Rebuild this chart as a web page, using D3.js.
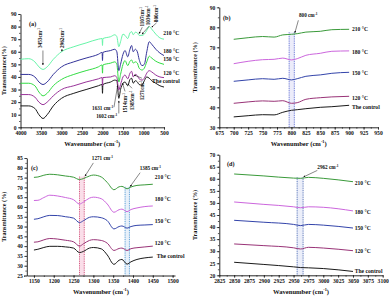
<!DOCTYPE html>
<html>
<head>
<meta charset="utf-8">
<script src="https://cdn.jsdelivr.net/npm/d3@7"></script>
<style>
body { margin: 0; background: #fff; }
svg text { font-family: "Liberation Serif", "Times New Roman", serif; font-weight: bold; fill: #111; }
</style>
</head>
<body>
<svg id="chart" width="389" height="298"></svg>
<script>
// ---------- data ----------
const seriesNames = ["The control", "120 °C", "150 °C", "180 °C", "210 °C"];

// (a) full spectrum 4000-500
const wnA = [4000, 3800, 3650, 3550, 3450, 3350, 3200, 3000, 2700, 2400, 2100, 2010, 2000, 1990, 1800, 1700, 1650, 1602, 1560, 1500, 1450, 1385, 1330, 1290, 1250, 1200, 1150, 1107, 1036, 980, 920, 860, 800, 700, 600, 500];
const aControl = [17, 17, 15, 10, 7, 10, 17, 23, 27, 30, 33, 34, 27, 34, 36, 37.5, 37, 23, 30, 35, 36, 33, 38, 39, 35, 37, 36, 34, 33.5, 37, 40, 39, 37, 35, 33, 32];
const a120 = [26, 26, 24, 20, 18, 20, 25, 30, 33, 36, 38.5, 39.5, 33, 39.5, 40, 41, 39.5, 29.5, 34, 40, 41.5, 38.5, 43, 44.5, 40, 42, 41, 38.5, 37.5, 39, 43, 45, 44, 41.5, 40, 39.5];
const a150 = [35, 35, 33, 28, 25, 27, 33, 38, 42, 45, 48, 49.5, 43, 49.5, 51, 52, 50, 36, 42, 50, 53, 49, 52.5, 53.5, 51, 52, 51, 47, 45.5, 47, 52, 56.5, 55, 52.5, 51, 50];
const a180 = [42, 42, 40, 36, 34, 36, 42, 48, 52, 55, 58, 59.5, 53, 59.5, 61, 62, 60, 45, 50, 58, 61, 56, 62, 65, 60, 62, 60, 54, 49, 50, 60, 68, 66, 62, 59, 57];
const a210 = [54, 54.5, 52, 48, 46, 48, 54, 60, 64, 67, 70, 70.5, 65, 70.5, 72, 73.5, 72, 64, 68, 74, 73, 70.5, 75, 76, 73.5, 75.5, 75, 73, 73, 74, 77, 80, 78, 74, 71, 70];
const xTicksA = [4000, 3500, 3000, 2500, 2000, 1500, 1000, 500];
const yTicksA = [0, 10, 20, 30, 40, 50, 60, 70, 80, 90];

// (b) 700-900
const wnB = [700, 725, 750, 770, 785, 800, 810, 825, 850, 870, 900];
const bControl = [35.2, 35.8, 36.3, 36.2, 37.5, 38.5, 38.8, 39.3, 40, 40.3, 41];
const b120 = [42, 42.7, 43.2, 43, 43.3, 42, 42.3, 44, 44.8, 45.2, 45.5];
const b150 = [53, 53.7, 54.3, 54, 54.5, 53.7, 54.3, 55.5, 56.2, 57, 57.5];
const b180 = [61.8, 63, 63.8, 64, 64.6, 63.7, 64.3, 66, 67, 68, 68.2];
const b210 = [74, 74.8, 75.4, 75.1, 76.2, 76.5, 76.8, 77.6, 78, 78.8, 79];
const xTicksB = [675, 700, 725, 750, 775, 800, 825, 850, 875, 900, 925, 950];
const yTicksB = [30, 40, 50, 60, 70, 80, 90];

// (c) 1150-1450
const wnC = [1150, 1160, 1175, 1190, 1210, 1230, 1250, 1265, 1275, 1290, 1300, 1320, 1335, 1352, 1365, 1372, 1385, 1395, 1410, 1430, 1450];
const cControl = [38, 38.4, 39.3, 39.9, 39.9, 39.6, 39, 36.7, 37.3, 39, 39.3, 38.6, 35.5, 30.7, 32.8, 33.2, 30.8, 32, 33.2, 34, 34.4];
const c120 = [42, 42.2, 43.2, 43.9, 43.6, 43, 42.2, 40, 41.2, 42.9, 43.3, 42.9, 41.5, 37.8, 38.8, 39, 37.8, 38.7, 39.2, 39.6, 40];
const c150 = [53.7, 54, 55, 55.7, 55.6, 55, 54.3, 52, 53, 54.7, 55, 54.5, 53, 48.8, 50, 50.3, 49.2, 50, 50.6, 50.8, 51];
const c180 = [63.3, 63.4, 64.8, 66, 65.6, 64.8, 63.7, 61.5, 62.5, 64.5, 65, 64.2, 61.5, 57.3, 58.6, 58.9, 57.6, 58.7, 59.5, 60.2, 60.5];
const c210 = [75.1, 75.3, 76.2, 76.7, 76.4, 75.8, 75.2, 74, 74.5, 75.8, 76.3, 75.3, 72.5, 68.8, 70.3, 70.5, 69.3, 70.2, 71, 71.3, 71.6];
const xTicksC = [1150, 1200, 1250, 1300, 1350, 1400, 1450, 1500];
const yTicksC = [25, 30, 35, 40, 45, 50, 55, 60, 65, 70, 75, 80, 85];

// (d) 2850-3050
const wnD = [2850, 2900, 2950, 2962, 2975, 3000, 3050];
const dControl = [25.4, 24.5, 23.5, 23.2, 23.1, 22.8, 21.6];
const d120 = [33, 32.3, 31.4, 30.9, 31.6, 31.3, 30.2];
const d150 = [42.8, 42, 41.1, 40.6, 41.1, 40.8, 39.6];
const d180 = [50.4, 49.4, 48.4, 48, 48.4, 48.2, 46.7];
const d210 = [62, 61.2, 60.3, 60.2, 60.6, 60.2, 58.8];
const xTicksD = [2825, 2850, 2875, 2900, 2925, 2950, 2975, 3000, 3025, 3050, 3075, 3100];
const yTicksD = [20, 25, 30, 35, 40, 45, 50, 55, 60, 65, 70];

const colorsA = ["#1a1a1a", "#993399", "#33dd44", "#333399", "#66f5a8"];
const colorsB = ["#1a1a1a", "#993377", "#3344aa", "#cc66dd", "#3a9a3a"];

// ---------- drawing ----------
const svg = d3.select("#chart");

function supText(sel, before, sup, after, fs) {
  sel.append("tspan").text(before);
  sel.append("tspan").attr("dy", -fs * 0.4).attr("font-size", fs * 0.65).text(sup);
  if (after) sel.append("tspan").attr("dy", fs * 0.4).text(after);
}

svg.append("defs").append("marker")
    .attr("id", "arr").attr("viewBox", "0 0 6 6").attr("refX", 5).attr("refY", 3)
    .attr("markerWidth", 4).attr("markerHeight", 4).attr("orient", "auto")
  .append("path").attr("d", "M0,0L6,3L0,6Z").attr("fill", "#111");

function drawPanel(p) {
  const x = d3.scaleLinear().domain(p.xDomain).range(p.xRange);
  const y = d3.scaleLinear().domain(p.yDomain).range(p.yRange);
  const g = svg.append("g");
  const fs = 5.6;

  // bands behind the curves
  (p.bands || []).forEach(b => {
    g.append("rect")
        .attr("x", x(b.lo)).attr("y", y(b.top))
        .attr("width", Math.abs(x(b.hi) - x(b.lo))).attr("height", y(p.yDomain[0]) - y(b.top))
        .attr("fill", b.fill).attr("opacity", 0.35);
    [b.lo, b.hi].forEach(w => {
      g.append("line")
          .attr("x1", x(w)).attr("x2", x(w))
          .attr("y1", y(b.top)).attr("y2", y(p.yDomain[0]))
          .attr("stroke", b.stroke).attr("stroke-width", 0.8)
          .attr("stroke-dasharray", "1,0.8");
    });
  });

  const xAxis = g.append("g").attr("transform", `translate(0,${p.yRange[0]})`)
      .call(d3.axisBottom(x).tickValues(p.xTicks).tickSize(2.5).tickSizeOuter(0).tickPadding(1.5).tickFormat(d3.format("d")));
  g.append("g").attr("transform", `translate(0,${p.yRange[0]})`)
      .call(d3.axisBottom(x).tickValues(p.xMinor).tickSize(1.4).tickSizeOuter(0).tickFormat(""))
      .select(".domain").remove();
  const yAxis = g.append("g").attr("transform", `translate(${p.xRange[0]},0)`)
      .call(d3.axisLeft(y).tickValues(p.yTicks).tickSize(2.5).tickSizeOuter(0).tickPadding(1.5).tickFormat(d3.format("d")));
  g.append("g").attr("transform", `translate(${p.xRange[0]},0)`)
      .call(d3.axisLeft(y).tickValues(p.yMinor).tickSize(1.4).tickSizeOuter(0).tickFormat(""))
      .select(".domain").remove();
  g.selectAll(".domain").attr("stroke", "#111").attr("stroke-width", 0.9);
  g.selectAll(".tick line").attr("stroke", "#111").attr("stroke-width", 0.7);
  g.selectAll(".tick text").attr("font-size", fs).attr("font-family", "Liberation Serif").attr("font-weight", "bold").attr("fill", "#111");

  // axis titles
  const xt = g.append("text")
      .attr("x", (p.xRange[0] + p.xRange[1]) / 2).attr("y", p.yRange[0] + 18.5)
      .attr("text-anchor", "middle").attr("font-size", 6.6);
  supText(xt, "Wavenumber (cm", "-1", ")", 6.6);
  g.append("text")
      .attr("transform", `translate(${p.yTitleX},${(p.yRange[0] + p.yRange[1]) / 2}) rotate(-90)`)
      .attr("text-anchor", "middle").attr("font-size", 6.2)
      .text(p.yTitle);
  g.append("text").attr("x", p.tagPos[0]).attr("y", p.tagPos[1])
      .attr("font-size", 6.2).text(p.tag);

  // curves
  const line = d3.line().x(d => x(d[0])).y(d => y(d[1])).curve(d3.curveMonotoneX);
  p.series.forEach((vals, i) => {
    g.append("path")
        .datum(vals.map((v, j) => [p.wn[j], v]))
        .attr("fill", "none").attr("stroke", p.colors[i]).attr("stroke-width", 1)
        .attr("d", line);
  });

  // series labels
  p.labels.forEach((l, i) => {
    g.append("text").attr("x", x(l[0])).attr("y", y(l[1]))
        .attr("dy", "0.35em").attr("font-size", 5.6).text(seriesNames[i]);
  });

  // annotations
  (p.notes || []).forEach(n => {
    if (n.from) {
      g.append("line")
          .attr("x1", x(n.from[0])).attr("y1", y(n.from[1]))
          .attr("x2", x(n.to[0])).attr("y2", y(n.to[1]))
          .attr("stroke", n.lineColor || "#111").attr("stroke-width", 0.5)
          .attr("marker-end", n.arrow === false ? null : "url(#arr)");
    }
    const t = g.append("text").attr("font-size", n.fs || 5.2)
        .attr("text-anchor", n.anchor || "start");
    if (n.rotate) {
      t.attr("transform", `translate(${x(n.at[0])},${y(n.at[1])}) rotate(-90)`);
    } else {
      t.attr("x", x(n.at[0])).attr("y", y(n.at[1]));
    }
    supText(t, n.text + "cm", "-1", "", n.fs || 5.2);
  });
}

function range(a, b, s) { return d3.range(a, b + s / 2, s); }

drawPanel({
  tag: "(a)", tagPos: [29, 26],
  wn: wnA, series: [aControl, a120, a150, a180, a210], colors: colorsA,
  xDomain: [4000, 500], xRange: [20.5, 164],
  yDomain: [0, 90], yRange: [127.3, 14],
  xTicks: xTicksA, xMinor: range(500, 4000, 250),
  yTicks: yTicksA, yMinor: range(0, 90, 5),
  yTitle: "Transmittance(%)", yTitleX: 6,
  labels: [[790, 36.8], [520, 43.1], [520, 54.2], [520, 60.6], [520, 74.9]],
  notes: [
    {text: "3453", at: [3480, 63], rotate: true, from: [3453, 61], to: [3453, 49.5]},
    {text: "2962", at: [2935, 63], rotate: true, from: [2975, 62.2], to: [3000, 60.5]},
    {text: "1107", at: [990, 80], rotate: true, from: [1030, 79.5], to: [1107, 74.5]},
    {text: "1036", at: [830, 81], rotate: true, from: [860, 80.5], to: [1036, 74]},
    {text: "800", at: [640, 83.5], rotate: true, from: [680, 83], to: [800, 79.5]},
    {text: "1631 ", at: [1740, 14], anchor: "end", from: [1720, 16], to: [1631, 33]},
    {text: "1602 ", at: [1640, 7.5], anchor: "end", from: [1602, 11], to: [1602, 21]},
    {text: "1514", at: [1400, 11.5], rotate: true, from: [1450, 28.5], to: [1514, 35]},
    {text: "1385", at: [1230, 13.5], rotate: true, from: [1280, 31], to: [1385, 34.5]},
    {text: "1271", at: [990, 21.5], rotate: true, from: [1040, 39], to: [1230, 41.5]}
  ]
});

drawPanel({
  tag: "(b)", tagPos: [223, 20],
  wn: wnB, series: [bControl, b120, b150, b180, b210], colors: colorsB,
  xDomain: [675, 950], xRange: [219.3, 378],
  yDomain: [30, 90], yRange: [127.3, 7.3],
  xTicks: xTicksB, xMinor: range(675, 950, 12.5),
  yTicks: yTicksB, yMinor: range(30, 90, 5),
  yTitle: "Transmittance (%)", yTitleX: 197,
  labels: [[905, 40], [905, 44.5], [905, 57.3], [905, 67.8], [905, 79]],
  bands: [{lo: 796, hi: 805, top: 77.5, fill: "#c8c8f0", stroke: "#4455cc"}],
  notes: [
    {text: "800 ", at: [813, 85], from: [812, 83.5], to: [806, 77.3]}
  ]
});

drawPanel({
  tag: "(c)", tagPos: [31, 170],
  wn: wnC, series: [cControl, c120, c150, c180, c210], colors: colorsB,
  xDomain: [1132, 1506], xRange: [26.8, 175],
  yDomain: [25, 85], yRange: [275.5, 158],
  xTicks: xTicksC, xMinor: range(1125, 1500, 25),
  yTicks: yTicksC, yMinor: range(25, 85, 2.5),
  yTitle: "Transmittance (%)", yTitleX: 6,
  labels: [[1460, 34.7], [1455, 41.6], [1455, 52.7], [1455, 63.8], [1455, 75.1]],
  bands: [
    {lo: 1265, hi: 1277, top: 75.5, fill: "#f0a0c0", stroke: "#cc3366"},
    {lo: 1380, hi: 1391, top: 70.3, fill: "#c0d8f0", stroke: "#3388cc"}
  ],
  notes: [
    {text: "1271 ", at: [1296, 84], from: [1300, 82.5], to: [1279, 75.8]},
    {text: "1385 ", at: [1417, 79], from: [1418, 77.5], to: [1393, 70.5]}
  ]
});

drawPanel({
  tag: "(d)", tagPos: [227, 166],
  wn: wnD, series: [dControl, d120, d150, d180, d210], colors: colorsB,
  xDomain: [2825, 3100], xRange: [219.3, 382.7],
  yDomain: [20, 70], yRange: [275.3, 154.7],
  xTicks: xTicksD, xMinor: range(2825, 3100, 12.5),
  yTicks: yTicksD, yMinor: range(20, 70, 2.5),
  yTitle: "Transmittance (%)", yTitleX: 197,
  labels: [[3053, 21.8], [3053, 30.1], [3053, 39.5], [3053, 46.4], [3053, 58.4]],
  bands: [{lo: 2956, hi: 2966, top: 60.6, fill: "#c8d0f0", stroke: "#3355aa"}],
  notes: [
    {text: "2962 ", at: [2990, 64], from: [2990, 63.5], to: [2967, 60.8]}
  ]
});
</script>
</body>
</html>
